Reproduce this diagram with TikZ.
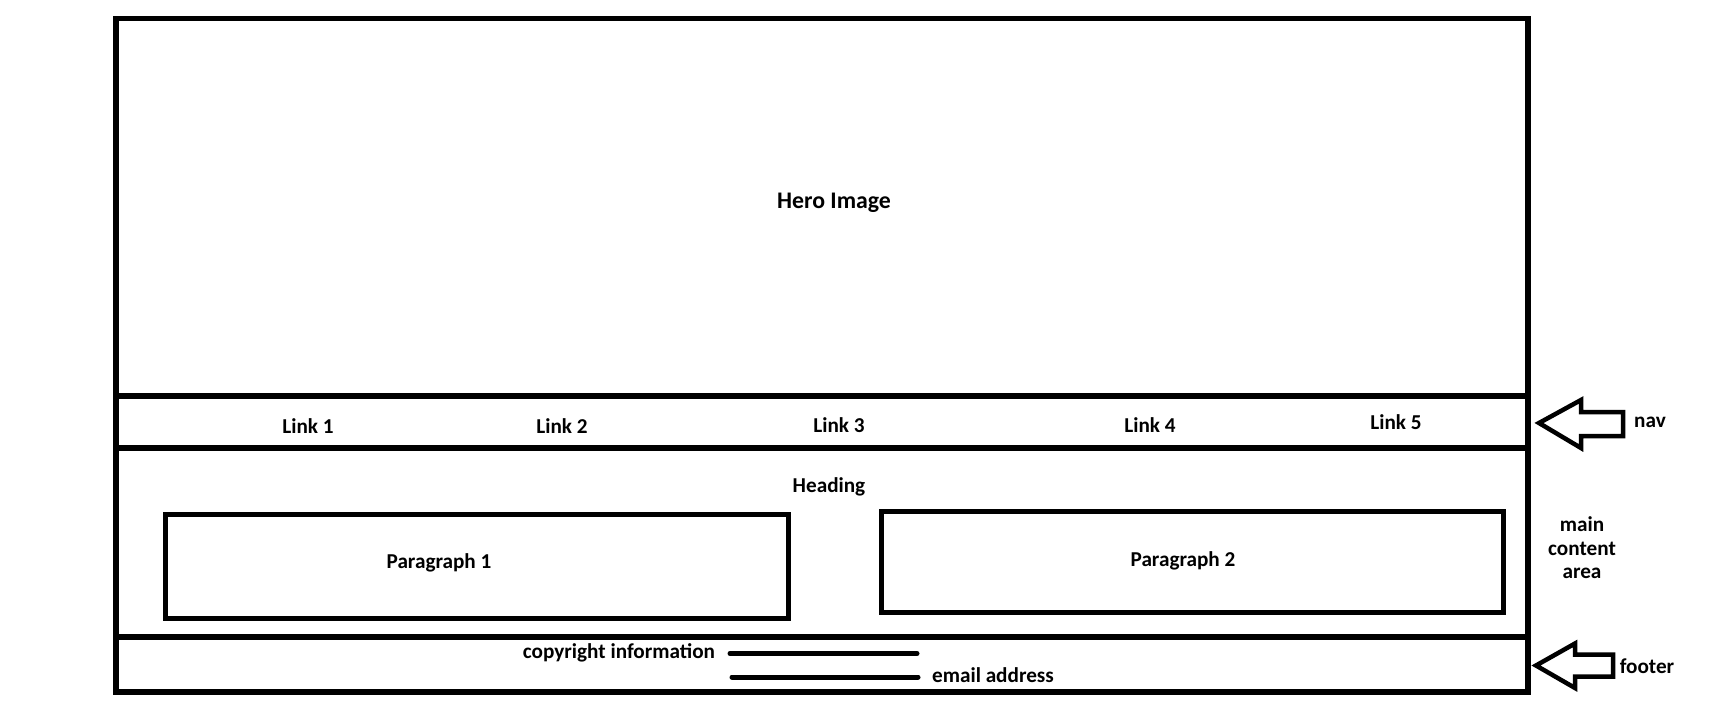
\documentclass[tikz,border=0pt]{standalone}
\usepackage{fontspec}
\setmainfont{Carlito}
\begin{document}
\begin{tikzpicture}[x=1pt,y=1pt,
  frame/.style={draw=black,line width=5.5pt,rectangle,inner sep=0pt,outer sep=0pt},
  pbox/.style={draw=black,line width=5pt,rectangle,inner sep=0pt,outer sep=0pt},
  lbl/.style={font=\fontsize{21.2}{25}\selectfont\bfseries,inner sep=0pt,align=center},
  herolbl/.style={font=\fontsize{23.8}{28}\selectfont\bfseries,inner sep=0pt},
  fatarrow/.style={draw=black,line width=4.5pt,line join=miter},
  rule/.style={draw=black,line width=5pt,line cap=round}]
\useasboundingbox (0,0) rectangle (1713,-709);
% frame sections
\node[frame,minimum width=1412pt,minimum height=377.5pt] (hero) at (822,-207.25) {};
\node[frame,minimum width=1412pt,minimum height=52pt] (nav) at (822,-422) {};
\node[frame,minimum width=1412pt,minimum height=189pt] (main) at (822,-542.5) {};
\node[frame,minimum width=1412pt,minimum height=55pt] (footer) at (822,-664.5) {};
% paragraph boxes
\node[pbox,minimum width=623pt,minimum height=104pt] (p1) at (476.5,-566) {};
\node[pbox,minimum width=622pt,minimum height=100.5pt] (p2) at (1192,-561.75) {};
% labels
\node[herolbl] (herot) at (834,-203) {Hero Image};
\node[lbl] (l1) at (308,-426) {Link 1};
\node[lbl] (l2) at (562,-426) {Link 2};
\node[lbl] (l3) at (839,-425) {Link 3};
\node[lbl] (l4) at (1150,-425) {Link 4};
\node[lbl] (l5) at (1396,-422) {Link 5};
\node[lbl] (head) at (829,-487) {Heading};
\node[lbl] (p1t) at (439,-563) {Paragraph 1};
\node[lbl] (p2t) at (1183,-561) {Paragraph 2};
\node[lbl] (copy) at (619,-653) {copyright information};
\node[lbl] (email) at (993,-675) {email address};
% footer rules
\coordinate (r1a) at (730,-653.5);
\coordinate (r1b) at (917,-653.5);
\coordinate (r2a) at (732,-677);
\coordinate (r2b) at (918,-677);
\draw[rule] (r1a) -- (r1b);
\draw[rule] (r2a) -- (r2b);
% side annotations
\draw[fatarrow] (1539,-423) -- (1581,-400) -- (1581,-412) -- (1623,-412) -- (1623,-436) -- (1581,-436) -- (1581,-448) -- cycle;
\node[lbl] (navt) at (1650,-422) {nav};
\node[lbl] (maint) at (1582,-548) {main\\[-1.5pt]content\\[-1.5pt]area};
\draw[fatarrow] (1536,-665.5) -- (1575,-643.5) -- (1575,-654.5) -- (1613,-654.5) -- (1613,-676.5) -- (1575,-676.5) -- (1575,-688) -- cycle;
\node[lbl] (foott) at (1647,-666) {footer};
\end{tikzpicture}
\end{document}
